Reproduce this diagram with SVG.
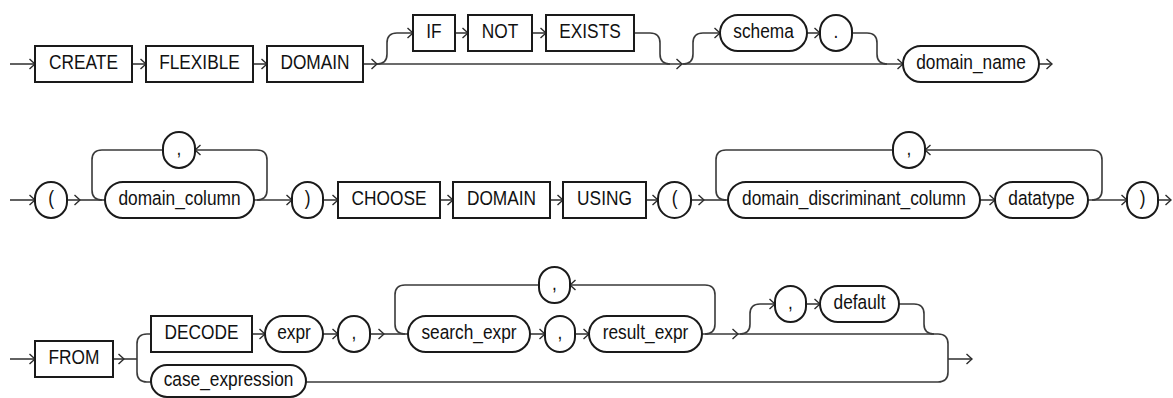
<svg xmlns="http://www.w3.org/2000/svg" width="1173" height="398" viewBox="0 0 1173 398">
<style>
.k{fill:#fff;stroke:#1a1a1a;stroke-width:2}
.c{fill:none;stroke:#3a3a3a;stroke-width:1.6}
.a{marker-end:url(#ar)}
text{font-family:"Liberation Sans",Arial,sans-serif;font-size:17.3px;fill:#111;text-anchor:middle}
</style>
<defs>
<marker id="ar" markerWidth="8" markerHeight="12" refX="7" refY="6" orient="auto" markerUnits="userSpaceOnUse">
<path d="M1.5,1 L7,6 L1.5,11" fill="none" stroke="#2a2a2a" stroke-width="1.4"/>
</marker>
</defs>
<rect width="1173" height="398" fill="#fff"/>
<g id="connectors">
<!-- row 1 -->
<path class="c a" d="M10,64 H35"/>
<path class="c a" d="M132,64 H146"/>
<path class="c a" d="M253,64 H267"/>
<path class="c a" d="M363,64 H377"/>
<path class="c a" d="M377,64 H682"/>
<path class="c a" d="M682,64 H903"/>
<path class="c a" d="M377,64 Q387,64 387,54 V43 Q387,33 397,33 H413"/>
<path class="c a" d="M455,33 H468"/>
<path class="c a" d="M532,33 H546"/>
<path class="c" d="M634,33 H650 Q660,33 660,43 V54 Q660,64 670,64"/>
<path class="c a" d="M683,64 Q693,64 693,54 V43 Q693,33 703,33 H720"/>
<path class="c a" d="M807,33 H820"/>
<path class="c" d="M852,33 H867 Q877,33 877,43 V54 Q877,64 887,64"/>
<path class="c a" d="M1039,64 H1052"/>
<!-- row 2 -->
<path class="c a" d="M10,200 H35"/>
<path class="c a" d="M67,200 H80"/>
<path class="c" d="M80,200 H105"/>
<path class="c" d="M102,200 Q92,200 92,190 V160 Q92,150 102,150 H163"/>
<path class="c a" d="M254,200 H292"/>
<path class="c a" d="M257,200 Q267,200 267,190 V160 Q267,150 257,150 H195"/>
<path class="c a" d="M323,200 H338"/>
<path class="c a" d="M440,200 H453"/>
<path class="c a" d="M550,200 H563"/>
<path class="c a" d="M646,200 H658"/>
<path class="c a" d="M691,200 H704"/>
<path class="c" d="M704,200 H728"/>
<path class="c" d="M726,200 Q716,200 716,190 V160 Q716,150 726,150 H893"/>
<path class="c a" d="M980,200 H995"/>
<path class="c a" d="M1088,200 H1127"/>
<path class="c a" d="M1092,200 Q1102,200 1102,190 V160 Q1102,150 1092,150 H925"/>
<path class="c a" d="M1158,200 H1171"/>
<!-- row 3 -->
<path class="c a" d="M10,359 H35"/>
<path class="c a" d="M113,359 H124"/>
<path class="c" d="M124,359 H137"/>
<path class="c" d="M151,334 H147 Q137,334 137,344 V372 Q137,382 147,382 H151"/>
<path class="c a" d="M252,334 H265"/>
<path class="c a" d="M323,334 H338"/>
<path class="c a" d="M370,334 H384"/>
<path class="c" d="M384,334 H408"/>
<path class="c" d="M405,334 Q395,334 395,324 V295 Q395,285 405,285 H539"/>
<path class="c a" d="M530,334 H545"/>
<path class="c a" d="M575,334 H589"/>
<path class="c a" d="M705,334 Q715,334 715,324 V295 Q715,285 705,285 H570"/>
<path class="c a" d="M702,334 H738"/>
<path class="c" d="M738,334 H938 Q948,334 948,344 V372 Q948,382 938,382 H306"/>
<path class="c a" d="M740,334 Q750,334 750,324 V314 Q750,304 760,304 H775"/>
<path class="c a" d="M806,304 H820"/>
<path class="c" d="M899,304 H914 Q924,304 924,314 V324 Q924,334 934,334"/>
<path class="c a" d="M948,359 H972"/>
</g>
<!-- row 1 nodes -->
<g id="n-create"><rect class="k" x="35" y="46" width="97" height="36"/><text transform="translate(83.5,69) scale(1,1.17)">CREATE</text></g>
<g id="n-flexible"><rect class="k" x="146" y="46" width="107" height="36"/><text transform="translate(199.5,69) scale(1,1.17)">FLEXIBLE</text></g>
<g id="n-domain1"><rect class="k" x="267" y="46" width="96" height="36"/><text transform="translate(315,69) scale(1,1.17)">DOMAIN</text></g>
<g id="n-if"><rect class="k" x="413" y="15" width="42" height="36"/><text transform="translate(434,38) scale(1,1.17)">IF</text></g>
<g id="n-not"><rect class="k" x="468" y="15" width="64" height="36"/><text transform="translate(500,38) scale(1,1.17)">NOT</text></g>
<g id="n-exists"><rect class="k" x="546" y="15" width="88" height="36"/><text transform="translate(590,38) scale(1,1.17)">EXISTS</text></g>
<g id="n-schema"><rect class="k" x="720" y="15" width="87" height="36" rx="18"/><text transform="translate(763.5,38) scale(1,1.17)">schema</text></g>
<g id="n-dot"><rect class="k" x="820" y="15" width="32" height="36" rx="16"/><text transform="translate(836,38) scale(1,1.17)">.</text></g>
<g id="n-domain_name"><rect class="k" x="903" y="46" width="136" height="36" rx="18"/><text transform="translate(971,69) scale(1,1.17)">domain_name</text></g>
<!-- row 2 nodes -->
<g id="n-lp1"><rect class="k" x="35" y="182" width="32" height="36" rx="16"/><text transform="translate(51,205) scale(1,1.17)">(</text></g>
<g id="n-comma1"><rect class="k" x="163" y="132" width="32" height="36" rx="16"/><text transform="translate(179,155) scale(1,1.17)">,</text></g>
<g id="n-domain_column"><rect class="k" x="105" y="182" width="149" height="36" rx="18"/><text transform="translate(179.5,205) scale(1,1.17)">domain_column</text></g>
<g id="n-rp1"><rect class="k" x="292" y="182" width="31" height="36" rx="15.5"/><text transform="translate(307.5,205) scale(1,1.17)">)</text></g>
<g id="n-choose"><rect class="k" x="338" y="182" width="102" height="36"/><text transform="translate(389,205) scale(1,1.17)">CHOOSE</text></g>
<g id="n-domain2"><rect class="k" x="453" y="182" width="97" height="36"/><text transform="translate(501.5,205) scale(1,1.17)">DOMAIN</text></g>
<g id="n-using"><rect class="k" x="563" y="182" width="83" height="36"/><text transform="translate(604.5,205) scale(1,1.17)">USING</text></g>
<g id="n-lp2"><rect class="k" x="658" y="182" width="33" height="36" rx="16.5"/><text transform="translate(674.5,205) scale(1,1.17)">(</text></g>
<g id="n-comma2"><rect class="k" x="893" y="132" width="32" height="36" rx="16"/><text transform="translate(909,155) scale(1,1.17)">,</text></g>
<g id="n-ddc"><rect class="k" x="728" y="182" width="252" height="36" rx="18"/><text transform="translate(854,205) scale(1,1.17)">domain_discriminant_column</text></g>
<g id="n-datatype"><rect class="k" x="995" y="182" width="93" height="36" rx="18"/><text transform="translate(1041.5,205) scale(1,1.17)">datatype</text></g>
<g id="n-rp2"><rect class="k" x="1127" y="182" width="31" height="36" rx="15.5"/><text transform="translate(1142.5,205) scale(1,1.17)">)</text></g>
<!-- row 3 nodes -->
<g id="n-from"><rect class="k" x="35" y="341" width="78" height="36"/><text transform="translate(74,364) scale(1,1.17)">FROM</text></g>
<g id="n-decode"><rect class="k" x="151" y="316" width="101" height="36"/><text transform="translate(201.5,339) scale(1,1.17)">DECODE</text></g>
<g id="n-expr"><rect class="k" x="265" y="316" width="58" height="36" rx="18"/><text transform="translate(294,339) scale(1,1.17)">expr</text></g>
<g id="n-comma3"><rect class="k" x="338" y="316" width="32" height="36" rx="16"/><text transform="translate(354,339) scale(1,1.17)">,</text></g>
<g id="n-comma4"><rect class="k" x="539" y="267" width="31" height="36" rx="15.5"/><text transform="translate(554.5,290) scale(1,1.17)">,</text></g>
<g id="n-search_expr"><rect class="k" x="408" y="316" width="122" height="36" rx="18"/><text transform="translate(469,339) scale(1,1.17)">search_expr</text></g>
<g id="n-comma5"><rect class="k" x="545" y="316" width="30" height="36" rx="15"/><text transform="translate(560,339) scale(1,1.17)">,</text></g>
<g id="n-result_expr"><rect class="k" x="589" y="316" width="113" height="36" rx="18"/><text transform="translate(645.5,339) scale(1,1.17)">result_expr</text></g>
<g id="n-comma6"><rect class="k" x="775" y="286" width="31" height="36" rx="15.5"/><text transform="translate(790.5,309) scale(1,1.17)">,</text></g>
<g id="n-default"><rect class="k" x="820" y="286" width="79" height="36" rx="18"/><text transform="translate(859.5,309) scale(1,1.17)">default</text></g>
<g id="n-case_expression"><rect class="k" x="151" y="365" width="155" height="32" rx="16"/><text transform="translate(228.5,386) scale(1,1.17)">case_expression</text></g>
</svg>
